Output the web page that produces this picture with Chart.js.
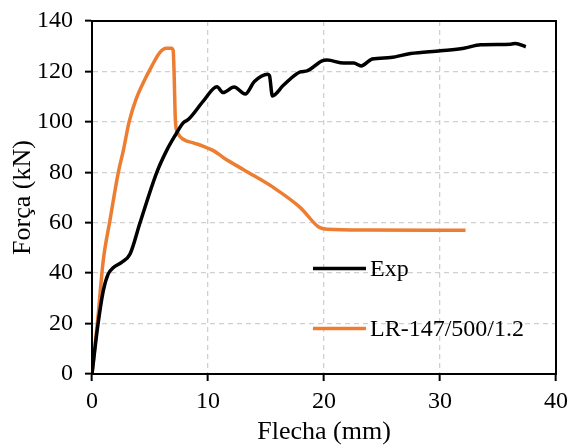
<!DOCTYPE html>
<html>
<head>
<meta charset="utf-8">
<script src="https://cdn.jsdelivr.net/npm/chart.js@4"></script>
<style>
  html, body { margin: 0; padding: 0; background: #fff; }
  #wrap { width: 571px; height: 448px; }
</style>
</head>
<body>
<div id="wrap"><canvas id="grafico" width="571" height="448"></canvas></div>
<script>
// Ensayo experimental
const expFlecha = [0, 0.48, 0.97, 1.4, 1.8, 2.55, 3.28, 4.14, 5.57, 6.43, 7.14, 7.88, 8.32, 9.61, 10.77, 11.3, 12.25, 13.21, 14.0, 15.15, 15.3, 15.55, 16.5, 17.96, 18.54, 19.84, 20.27, 21.7, 22.57, 23.2, 24.15, 25.73, 27.46, 30.05, 32.06, 33.5, 36.1, 36.5, 37.4]
const expFuerza = [0, 18.5, 33, 39.7, 42, 44.3, 47.6, 60, 79.8, 88.6, 94.4, 99.7, 101, 108.3, 113.9, 111.6, 113.8, 111, 116, 118.9, 118.3, 110.3, 114.5, 119.8, 120.2, 124.2, 124.5, 123.3, 123.3, 122.2, 124.9, 125.5, 127.1, 128.2, 129.2, 130.6, 130.8, 131.1, 129.8]

// Modelo LR-147/500/1.2
const lrFlecha = [0, 0.48, 0.97, 1.55, 2.27, 2.7, 3.2, 3.8, 4.5, 5.2, 5.84, 6.42, 6.85, 7.0, 7.08, 7.19, 7.37, 7.86, 8.8, 9.6, 10.5, 11.34, 13.07, 15.66, 17.96, 19.54, 20.27, 23.7, 32.2]
const lrFuerza = [0, 21, 45, 61, 80, 88.6, 100, 109, 116.3, 122.5, 127.5, 129.2, 129.2, 128.2, 118.9, 100.4, 95.8, 93.1, 91.6, 90.3, 88.5, 85.8, 81, 73.9, 66, 58.3, 57.4, 57.1, 57.0]

const xTicks = [0, 10, 20, 30, 40]
const yTicks = [0, 20, 40, 60, 80, 100, 120, 140]

const fuente = 'Liberation Serif'

function pares(xs, ys) {
    return xs.map((x, i) => ({ x: x, y: ys[i] }))
}

// marco negro alrededor del area de datos
const marco = {
    id: 'marco',
    afterDraw(chart) {
        const a = chart.chartArea
        const ctx = chart.ctx
        ctx.save()
        ctx.strokeStyle = '#000'
        ctx.lineWidth = 2
        ctx.strokeRect(a.left, a.top, a.right - a.left, a.bottom - a.top)
        ctx.restore()
    }
}

// leyenda dentro del grafico
const leyenda = {
    id: 'leyenda',
    afterDraw(chart) {
        const ctx = chart.ctx
        const xs = chart.scales.x
        const ys = chart.scales.y
        const x0 = xs.getPixelForValue(19.05)
        const items = [
            { texto: 'Exp', color: '#000000', y: ys.getPixelForValue(41.8) },
            { texto: 'LR-147/500/1.2', color: '#ED7D31', y: ys.getPixelForValue(18) }
        ]
        ctx.save()
        ctx.font = '24px "' + fuente + '"'
        ctx.textBaseline = 'middle'
        ctx.fillStyle = '#000'
        items.forEach(it => {
            ctx.strokeStyle = it.color
            ctx.lineWidth = 3.5
            ctx.beginPath()
            ctx.moveTo(x0, it.y)
            ctx.lineTo(x0 + 53, it.y)
            ctx.stroke()
            ctx.fillText(it.texto, x0 + 57, it.y + 1)
        })
        ctx.restore()
    }
}

const ctx = document.getElementById('grafico').getContext('2d')

new Chart(ctx, {
    type: 'line',
    data: {
        datasets: [
            {
                label: 'Exp',
                data: pares(expFlecha, expFuerza),
                borderColor: '#000000',
                borderWidth: 3.5,
                pointRadius: 0,
                cubicInterpolationMode: 'monotone',
                fill: false
            },
            {
                label: 'LR-147/500/1.2',
                data: pares(lrFlecha, lrFuerza),
                borderColor: '#ED7D31',
                borderWidth: 3.5,
                pointRadius: 0,
                cubicInterpolationMode: 'monotone',
                fill: false
            }
        ]
    },
    plugins: [marco, leyenda],
    options: {
        responsive: false,
        animation: false,
        layout: { padding: { top: 21, right: 15, left: 0, bottom: 0 } },
        scales: {
            x: {
                type: 'linear',
                min: 0,
                max: 40,
                afterBuildTicks: (s) => { s.ticks = xTicks.map(v => ({ value: v })) },
                afterFit: (s) => {
                    s.height = 74
                    s.paddingLeft = 0
                    s.paddingRight = 0
                },
                grid: {
                    color: '#d0d0d0',
                    lineWidth: 1.3,
                    tickColor: '#000',
                    tickLength: 7,
                    tickWidth: 2
                },
                border: { display: true, color: '#000', width: 2, dash: [5, 4] },
                ticks: {
                    color: '#000',
                    font: { family: fuente, size: 24 },
                    padding: 6,
                    maxRotation: 0
                },
                title: {
                    display: true,
                    text: 'Flecha (mm)',
                    color: '#000',
                    font: { family: fuente, size: 26 },
                    padding: { top: 0, bottom: 0 }
                }
            },
            y: {
                type: 'linear',
                min: 0,
                max: 140,
                afterBuildTicks: (s) => { s.ticks = yTicks.map(v => ({ value: v })) },
                afterFit: (s) => {
                    s.width = 92
                    s.paddingTop = 0
                    s.paddingBottom = 0
                },
                grid: {
                    color: '#d0d0d0',
                    lineWidth: 1.3,
                    tickColor: '#000',
                    tickLength: 7,
                    tickWidth: 2
                },
                border: { display: true, color: '#000', width: 2, dash: [5, 4] },
                ticks: {
                    color: '#000',
                    font: { family: fuente, size: 24 },
                    padding: 12
                },
                title: {
                    display: true,
                    text: 'Força (kN)',
                    color: '#000',
                    font: { family: fuente, size: 26 },
                    padding: { top: 8, bottom: 0 }
                }
            }
        },
        plugins: {
            legend: { display: false },
            tooltip: { enabled: false }
        }
    }
});
</script>
</body>
</html>
